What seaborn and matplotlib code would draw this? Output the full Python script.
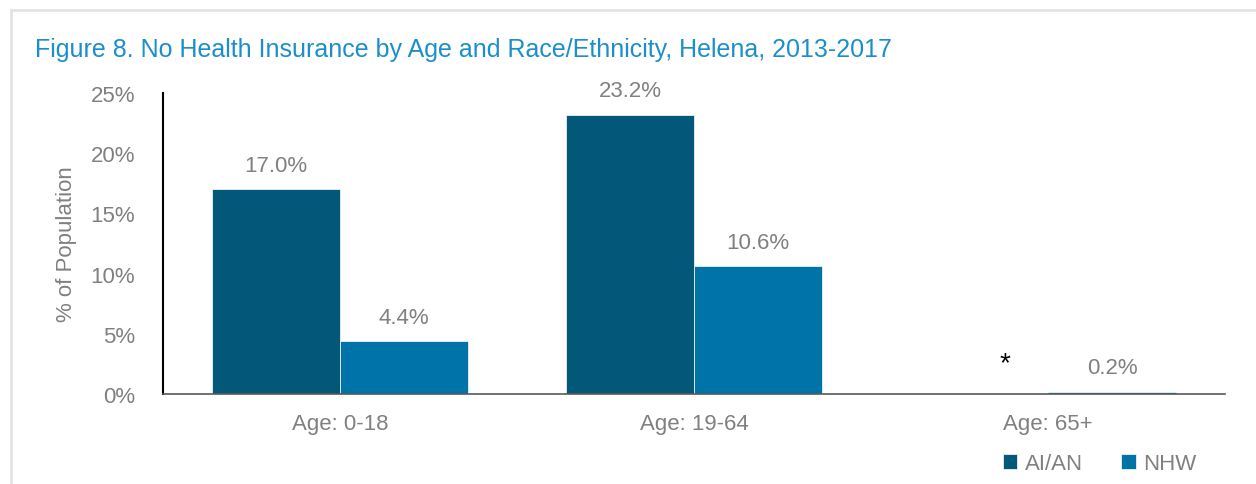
import numpy as np
import pandas as pd
import matplotlib
matplotlib.use("Agg")
import matplotlib.pyplot as plt
import seaborn as sns
from matplotlib import font_manager
from matplotlib.patches import Rectangle

# Data
ages = ["Age: 0-18", "Age: 19-64", "Age: 65+"]
groups = ["AI/AN", "NHW"]
aian = [17.0, 23.2, 0.0]
nhw = [4.4, 10.6, 0.2]
aian_labels = ["17.0%", "23.2%", "*"]
nhw_labels = ["4.4%", "10.6%", "0.2%"]

df = pd.DataFrame({
    "age": ages * 2,
    "group": [groups[0]] * 3 + [groups[1]] * 3,
    "pct": aian + nhw,
})

sns.set_theme(style="white")
# narrow font if available
names = {f.name for f in font_manager.fontManager.ttflist}
font = "Liberation Sans Narrow" if "Liberation Sans Narrow" in names else "Liberation Sans"
plt.rcParams["font.family"] = [font, "DejaVu Sans"]

gray = "#808080"
colors = ["#03587A", "#0073A8"]

fig = plt.figure(figsize=(12.56, 4.85), dpi=100)
ax = fig.add_axes([163 / 1256, 1 - 395 / 485, 1062 / 1256, 301 / 485])

sns.barplot(data=df, x="age", y="pct", hue="group", palette=colors,
            width=0.723, saturation=1, ax=ax, legend=True,
            edgecolor="white", linewidth=0.5, zorder=2)

# value labels
for cont, labs in zip(ax.containers, [aian_labels, nhw_labels]):
    for bar, lab in zip(cont, labs):
        x = bar.get_x() + bar.get_width() / 2
        y = bar.get_height()
        if lab == "*":
            ax.text(x + 0.06, 1.5, lab, ha="center", va="bottom",
                    fontsize=20, color="black")
        else:
            ax.text(x, y + 1.1, lab, ha="center", va="bottom",
                    fontsize=16, color=gray)

ax.set_ylim(0, 25)
ax.set_yticks([0, 5, 10, 15, 20, 25])
ax.set_yticklabels([f"{v}%" for v in [0, 5, 10, 15, 20, 25]])
ax.set_xlabel("")
ax.set_ylabel("% of Population", fontsize=16, color=gray, labelpad=10)
ax.tick_params(axis="y", labelsize=16, labelcolor=gray, pad=20, length=0)
ax.tick_params(axis="x", labelsize=16, labelcolor=gray, pad=14, length=0)

sns.despine(ax=ax, top=True, right=True)
ax.spines["left"].set_color("black")
ax.spines["left"].set_linewidth(1.5)
ax.spines["bottom"].set_color("#595959")
ax.spines["bottom"].set_linewidth(1.2)
ax.spines["bottom"].set_zorder(3)
ax.spines["left"].set_zorder(3)

ax.legend(loc="upper left", bbox_to_anchor=(820 / 1062, -0.13), ncol=2,
          frameon=False, fontsize=16, labelcolor=gray, handlelength=0.65,
          handleheight=0.65, handletextpad=0.35, columnspacing=1.7)

fig.text(35 / 1256, 1 - 57 / 485, "Figure 8. No Health Insurance by Age and Race/Ethnicity, Helena, 2013-2017",
         fontsize=18, color="#1C8FCB", ha="left", va="baseline")

# light frame around the chart
fig.patches.append(Rectangle((11 / 1256, -0.1), 1.2, 1 - 11 / 485 + 0.1,
                             transform=fig.transFigure, fill=False,
                             edgecolor="#E3E3E3", linewidth=2))

fig.savefig("out.png", dpi=100)
